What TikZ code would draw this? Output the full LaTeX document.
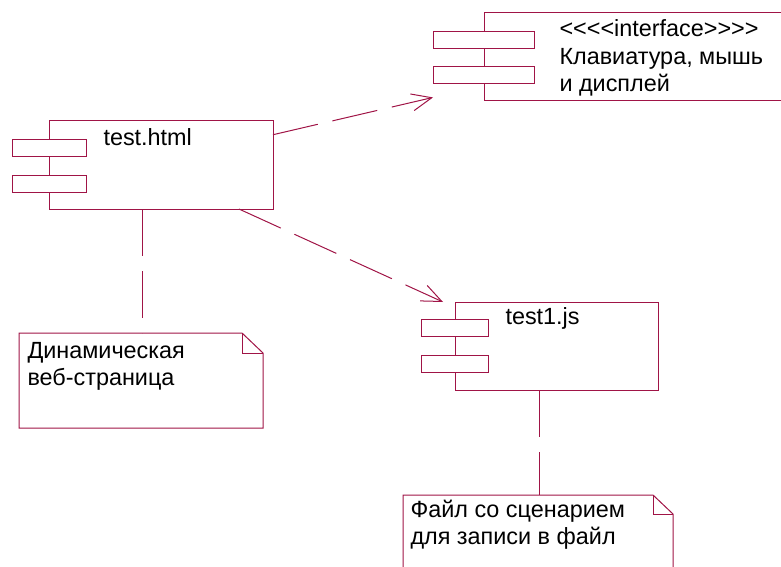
\documentclass[tikz,border=0pt]{standalone}
\usepackage{fontspec}
\setmainfont{Liberation Sans}
\usetikzlibrary{arrows.meta}
\definecolor{umlred}{RGB}{160,20,70}
\begin{document}
\begin{tikzpicture}[x=1pt,y=-1pt,
  line width=1pt,
  frame/.style={rectangle, inner sep=0pt, outer sep=0pt},
  body/.style={frame, draw=umlred, fill=white},
  port/.style={frame, draw=umlred, fill=white, minimum height=17pt},
  % multi-line labels are placed by the baseline of their last line
  lbl/.style={anchor=base west, inner sep=0pt, align=left,
              font=\fontsize{23.4}{27.5}\selectfont},
  dep/.style={draw=umlred, dash pattern=on 46pt off 15pt,
              -{Straight Barb[length=20pt,width=17pt]}},
  noteline/.style={draw=umlred, dash pattern=on 47pt off 15pt},
  noteedge/.style={draw=umlred, fill=white},
]
\useasboundingbox (0,0) rectangle (781,567);
\clip (0,0) rectangle (781,567);

% --- component test.html ---
\node[frame, minimum width=261pt, minimum height=88pt] (html) at (142.5,165) {};
\node[body, minimum width=224pt, minimum height=88pt] (htmlbody) at (161,165) {};
\node[port, minimum width=74pt] (htmlp1) at (49,147.5) {};
\node[port, minimum width=74pt] (htmlp2) at (49,183.5) {};
\node[lbl] (htmlname) at (103,145) {test.html};

% --- interface component ---
\node[frame, minimum width=348pt, minimum height=88pt] (iface) at (607,57) {};
\node[body, minimum width=299pt, minimum height=88pt] (ifacebody) at (633.5,57) {};
\node[port, minimum width=101pt] (ifacep1) at (483.5,40) {};
\node[port, minimum width=101pt] (ifacep2) at (483.5,75) {};
\node[lbl] (ifacename) at (559,92) {<{}<{}<{}<interface>{}>{}>{}>\\Клавиатура, мышь\\и дисплей};

% --- component test1.js ---
\node[frame, minimum width=237pt, minimum height=88pt] (js) at (539.5,346) {};
\node[body, minimum width=203pt, minimum height=88pt] (jsbody) at (556.5,346) {};
\node[port, minimum width=67pt] (jsp1) at (454.5,327.5) {};
\node[port, minimum width=67pt] (jsp2) at (454.5,363.5) {};
\node[lbl] (jsname) at (505,324) {test1.js};

% --- notes ---
\node[frame, minimum width=244pt, minimum height=95pt] (note1) at (141,380.5) {};
\draw[noteedge] (note1.north west) -- ([xshift=-21pt]note1.north east)
  -- ([yshift=-20pt]note1.north east) -- (note1.south east)
  -- (note1.south west) -- cycle;
\draw[umlred] ([xshift=-21pt]note1.north east) -- ([xshift=-21pt,yshift=-20pt]note1.north east)
  -- ([yshift=-20pt]note1.north east);
\node[lbl] (note1text) at (27,385.5) {Динамическая\\веб-страница};

\node[frame, minimum width=270pt, minimum height=105pt] (note2) at (538,547.5) {};
\draw[noteedge] (note2.north west) -- ([xshift=-20pt]note2.north east)
  -- ([yshift=-19pt]note2.north east) -- (note2.south east)
  -- (note2.south west) -- cycle;
\draw[umlred] ([xshift=-20pt]note2.north east) -- ([xshift=-20pt,yshift=-19pt]note2.north east)
  -- ([yshift=-19pt]note2.north east);
\node[lbl] (note2text) at (410,544.5) {Файл со сценарием\\для записи в файл};

% --- connectors ---
\draw[dep] (html) -- (iface);
\draw[dep] (html) -- (js);
\draw[noteline] (html.south) -- (html.south |- note1.north);
\draw[noteline] (js.south) -- (js.south |- note2.north);
\end{tikzpicture}
\end{document}
